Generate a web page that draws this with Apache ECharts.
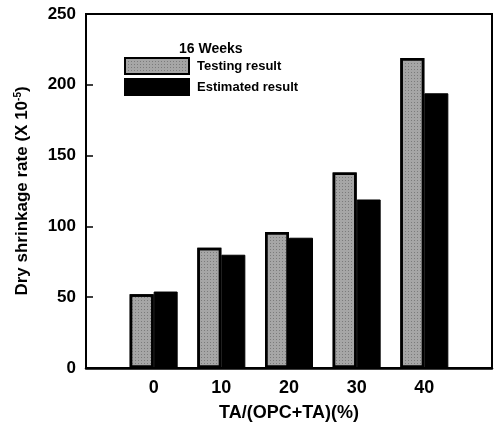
<!DOCTYPE html>
<html><head><meta charset="utf-8">
<script src="https://cdn.jsdelivr.net/npm/echarts@6/dist/echarts.min.js"></script>
<style>html,body{margin:0;padding:0;background:#fff}#c{width:496px;height:425px}</style>
</head><body><div id="c"></div>
<script>
const categories = [0, 10, 20, 30, 40];
const testingResult = [52, 85, 96, 138, 219];
const estimatedResult = [54, 80, 92, 119, 194];
const yTicks = [0, 50, 100, 150, 200, 250];
const seriesNames = ['Testing result', 'Estimated result'];
const legendTitle = '16 Weeks';
const xName = 'TA/(OPC+TA)(%)';

const font = 'Liberation Sans, Arial, sans-serif';
const chart = echarts.init(document.getElementById('c'), null, {renderer: 'canvas'});
const grayDecal = {symbol: 'rect', symbolSize: 1, color: 'rgba(70,70,70,0.45)', dashArrayX: [1, 2], dashArrayY: [1, 2], rotation: 0};
chart.setOption({
  backgroundColor: '#fff',
  animation: false,
  title: {text: legendTitle, left: 179, top: 42, padding: 0, textStyle: {fontFamily: font, fontSize: 14, fontWeight: 'bold', color: '#000'}},
  legend: {
    orient: 'vertical', left: 124, top: 57, padding: 0, itemWidth: 64, itemHeight: 16, itemGap: 3, icon: 'rect',
    data: seriesNames,
    textStyle: {fontFamily: font, fontSize: 13, fontWeight: 'bold', color: '#000', padding: [0, 0, 0, 3]}
  },
  grid: {left: 86, right: 4, top: 14, bottom: 57, show: true, borderColor: '#000', borderWidth: 2,
    outerBoundsMode: 'none', containLabel: false},
  xAxis: {
    type: 'value', min: -10, max: 50, interval: 10,
    name: xName, nameLocation: 'middle', nameGap: 36,
    nameTextStyle: {fontFamily: font, fontSize: 18, fontWeight: 'bold', color: '#000'},
    axisLine: {show: true, onZero: false, lineStyle: {color: '#000', width: 2.5}},
    axisTick: {show: false},
    splitLine: {show: false},
    axisLabel: {margin: 11, fontFamily: font, fontSize: 18, fontWeight: 'bold', color: '#000',
      formatter: v => categories.includes(v) ? String(v) : ''}
  },
  yAxis: {
    type: 'value', min: yTicks[0], max: yTicks[yTicks.length - 1], interval: 50,
    name: 'Dry shrinkage rate (X 10{sup|-5})', nameLocation: 'middle', nameGap: 55,
    nameTextStyle: {fontFamily: font, fontSize: 17, fontWeight: 'bold', color: '#000',
      rich: {sup: {fontFamily: font, fontSize: 10, fontWeight: 'bold', color: '#000', verticalAlign: 'top', padding: [0,0,8,0]}}},
    axisLine: {show: true, onZero: false, lineStyle: {color: '#000', width: 2}},
    axisTick: {show: true, inside: true, length: 7, lineStyle: {color: '#000', width: 1.5}},
    splitLine: {show: false},
    axisLabel: {margin: 10, fontFamily: font, fontSize: 17, fontWeight: 'bold', color: '#000'}
  },
  series: [
    {name: seriesNames[0], type: 'bar', barWidth: 24, barGap: '0%',
      data: categories.map((c, i) => [c, testingResult[i]]),
      itemStyle: {color: '#a6a6a6', borderColor: '#000', borderWidth: 2.5, decal: grayDecal}},
    {name: seriesNames[1], type: 'bar', barWidth: 24, barGap: '0%',
      data: categories.map((c, i) => [c, estimatedResult[i]]),
      itemStyle: {color: '#000', borderColor: '#000', borderWidth: 1}}
  ]
});
</script></body></html>
